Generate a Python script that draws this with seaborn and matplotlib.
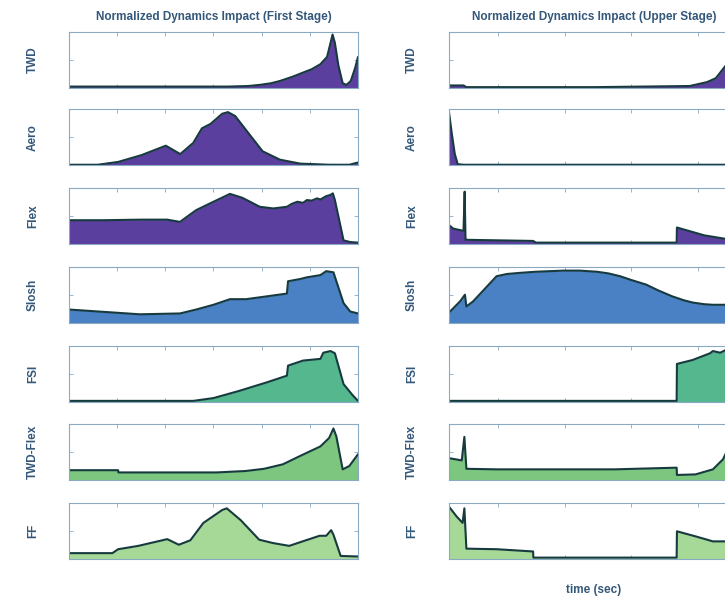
import numpy as np
import pandas as pd
import matplotlib
matplotlib.use("Agg")
import matplotlib.pyplot as plt
import seaborn as sns

sns.set_style("white")
plt.rcParams['font.family'] = ['Liberation Sans', 'DejaVu Sans']

# ---------------- data (normalized time, normalized impact) ----------------
rows = ["TWD", "Aero", "Flex", "Slosh", "FSI", "TWD-Flex", "FF"]
fills = ["#5b3f9e", "#5b3f9e", "#5b3f9e", "#4a80c4", "#55b78e", "#7cc67f", "#a6d897"]
titles = ["Normalized Dynamics Impact (First Stage)", "Normalized Dynamics Impact (Upper Stage)"]
xlabel_text = "time (sec)"

# First stage
first_twd_t = [0, .3, .55, .62, .66, .70, .73, .776, .80, .84, .87, .893, .905, .912, .92, .932, .947, .96, .975, .99, 1.0]
first_twd_v = [.02, .02, .02, .03, .05, .08, .12, .2, .25, .33, .42, .55, .8, .95, .8, .4, .08, .05, .12, .35, .55]
first_aero_t = [0, .1, .17, .25, .335, .385, .43, .46, .49, .53, .55, .575, .62, .67, .73, .8, .9, .97, 1.0]
first_aero_v = [.01, .01, .06, .18, .35, .2, .4, .66, .74, .92, .95, .88, .58, .25, .1, .03, .01, .01, .05]
first_flex_t = [0, .12, .25, .34, .384, .44, .5, .557, .6, .66, .707, .754, .77, .79, .81, .823, .84, .858, .87, .89, .904, .913, .92, .95, .973, 1.0]
first_flex_v = [.43, .43, .44, .44, .40, .61, .76, .9, .83, .67, .64, .67, .72, .76, .74, .79, .78, .82, .80, .86, .88, .91, .79, .07, .04, .03]
first_slosh_t = [0, .13, .245, .384, .44, .5, .557, .613, .684, .754, .758, .8, .823, .87, .89, .915, .95, .973, 1.0]
first_slosh_v = [.235, .19, .15, .165, .235, .32, .42, .42, .47, .52, .74, .78, .81, .85, .92, .9, .35, .2, .165]
first_fsi_t = [0, .2, .43, .5, .59, .684, .754, .758, .81, .87, .88, .905, .92, .95, .98, 1.0]
first_fsi_v = [.02, .02, .02, .07, .2, .35, .47, .65, .74, .77, .88, .91, .87, .32, .13, .02]
first_tf_t = [0, .17, .171, .51, .61, .675, .74, .8, .87, .9, .915, .925, .947, .97, 1.0]
first_tf_v = [.175, .175, .135, .135, .16, .2, .28, .43, .6, .75, .92, .78, .19, .25, .46]
first_ff_t = [0, .15, .17, .24, .34, .38, .42, .465, .53, .546, .594, .658, .706, .762, .82, .867, .89, .907, .915, .94, 1.0]
first_ff_v = [.11, .11, .18, .24, .36, .26, .34, .65, .88, .91, .7, .35, .29, .24, .34, .42, .42, .52, .44, .06, .05]

# Upper stage
up_twd_t = [0, .05, .06, .5, .83, .89, .92, .955, .98, 1.0]
up_twd_v = [.04, .04, .01, .01, .03, .1, .17, .4, .7, .9]
up_aero_t = [0, .01, .02, .03, .05, 1.0]
up_aero_v = [.95, .55, .2, .02, .01, .01]
up_flex_t = [0, .015, .05, .054, .057, .062, .29, .3, .785, .786, .88, .95, 1.0]
up_flex_v = [.34, .28, .24, .94, .08, .08, .06, .03, .03, .3, .16, .1, .08]
up_slosh_t = [0, .038, .055, .06, .083, .164, .2, .245, .3, .395, .45, .51, .55, .59, .63, .68, .72, .77, .81, .84, .88, .91, 1.0]
up_slosh_v = [.18, .38, .5, .29, .38, .83, .87, .89, .91, .93, .93, .91, .88, .83, .76, .68, .58, .47, .40, .36, .33, .32, .32]
up_fsi_t = [0, .785, .786, .84, .9, .91, .935, .955, 1.0]
up_fsi_v = [.02, .02, .68, .75, .87, .91, .88, .93, .92]
up_tf_t = [0, .044, .053, .06, .164, .57, .785, .786, .85, .91, .945, .955, 1.0]
up_tf_v = [.39, .35, .77, .2, .19, .19, .22, .09, .1, .19, .37, .48, .7]
up_ff_t = [0, .027, .047, .053, .06, .164, .29, .291, .785, .786, .85, .91, .955, 1.0]
up_ff_v = [.94, .76, .65, .91, .19, .18, .14, .03, .03, .5, .41, .32, .32, .3]

first = [(first_twd_t, first_twd_v), (first_aero_t, first_aero_v), (first_flex_t, first_flex_v),
         (first_slosh_t, first_slosh_v), (first_fsi_t, first_fsi_v), (first_tf_t, first_tf_v),
         (first_ff_t, first_ff_v)]
upper = [(up_twd_t, up_twd_v), (up_aero_t, up_aero_v), (up_flex_t, up_flex_v),
         (up_slosh_t, up_slosh_v), (up_fsi_t, up_fsi_v), (up_tf_t, up_tf_v),
         (up_ff_t, up_ff_v)]

# ---------------- layout ----------------
W, H = 725, 598
fig = plt.figure(figsize=(W / 100, H / 100), dpi=100)
col_left = [69, 449]
col_width = [289, 290]
row_tops = [31.7, 109.3, 188.3, 266.7, 346, 424, 503.3]
row_h = 56
spine_col = "#8aaac4"
text_col = "#34587a"
line_col = "#173a3e"
label_x = [33, 412]
xticks = [np.linspace(0, 1, 7), np.arange(0.169, 1.0, 0.23)]

for c, stage in enumerate([first, upper]):
    for r, (t, v) in enumerate(stage):
        ax = fig.add_axes([col_left[c] / W, 1 - (row_tops[r] + row_h) / H,
                           col_width[c] / W, row_h / H])
        df = pd.DataFrame({"t": t, "v": v})
        ax.fill_between(df["t"], 0, df["v"], color=fills[r], linewidth=0)
        sns.lineplot(data=df, x="t", y="v", ax=ax, color=line_col, lw=1.5,
                     sort=False, estimator=None)
        ax.set_xlim(0, 1)
        ax.set_ylim(0, 1.0)
        ax.set_xticks(xticks[c])
        ax.set_yticks([0, 0.5, 1])
        ax.tick_params(direction="in", length=3, width=0.6, colors=spine_col,
                       top=True, right=True, bottom=True, left=True,
                       labelbottom=False, labelleft=False)
        for s in ax.spines.values():
            s.set_color(spine_col)
            s.set_linewidth(0.8)
        ax.set_xlabel("")
        ax.set_ylabel("")
        fig.text(label_x[c] / W, 1 - (row_tops[r] + row_h / 2) / H, rows[r],
                 rotation=90, ha="center", va="center", fontsize=8.5,
                 fontweight="bold", color=text_col)
    cx = (col_left[c] + col_width[c] / 2) / W
    fig.text(cx, 1 - 17 / H, titles[c], ha="center", va="center", fontsize=8.5,
             fontweight="bold", color=text_col)

fig.text(594 / W, 1 - 590 / H, xlabel_text, ha="center", va="center", fontsize=8.5,
         fontweight="bold", color=text_col)

fig.savefig("out.png", dpi=100)
